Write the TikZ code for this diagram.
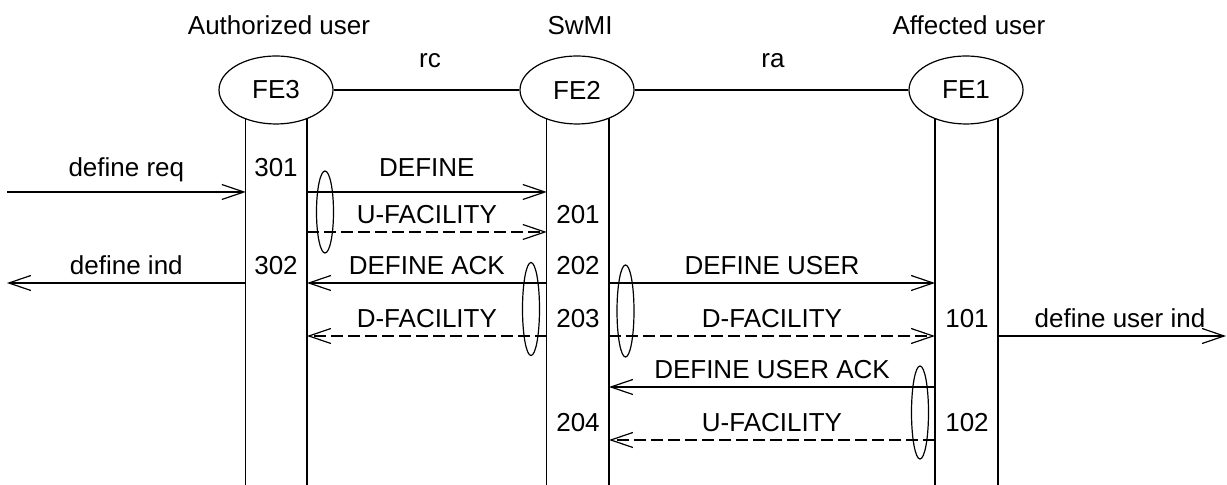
\documentclass[tikz,border=0pt]{standalone}
\usepackage{fontspec}
\setmainfont{Liberation Sans}
\usetikzlibrary{arrows.meta,shapes.geometric}

\begin{document}
\begin{tikzpicture}[x=0.5pt,y=-0.5pt,line width=0.6pt,font=\fontsize{13}{15}\selectfont]
\tikzstyle{fe}=[ellipse,draw,fill=white,minimum width=57pt,minimum height=34pt,inner sep=0pt];
\tikzstyle{grp}=[ellipse,draw,minimum width=8.5pt,inner sep=0pt];
\tikzstyle{msg}=[-{Straight Barb[length=11pt,width=7.5pt]}];
\tikzstyle{msgd}=[msg,dash pattern=on 6pt off 2.5pt];
\tikzstyle{lbl}=[anchor=base,yshift=4pt,inner sep=0pt];
\tikzstyle{num}=[anchor=base,inner sep=0pt];
\useasboundingbox (0,0) rectangle (1227,485);

\coordinate (c3) at (276,90);
\coordinate (c2) at (577,90);
\coordinate (c1) at (966,90);
\coordinate (a3) at (245.7,485);
\coordinate (b3) at (307,485);
\coordinate (a2) at (546.7,485);
\coordinate (b2) at (609,485);
\coordinate (a1) at (935,485);
\coordinate (b1) at (998,485);
\foreach \l in {a3,b3,a2,b2,a1,b1}
  \draw (\l |- c3) -- (\l);

\node [fe] (fe3) at (c3) {FE3};
\node [fe] (fe2) at (c2) {FE2};
\node [fe] (fe1) at (c1) {FE1};
\draw (fe3) -- (fe2);
\draw (fe2) -- (fe1);

\node [num] (t3) at (279,35) {Authorized user};
\node [num] (t2) at (580,35) {SwMI};
\node [num] (t1) at (969,35) {Affected user};
\node [num] (rc) at (430,68) {rc};
\node [num] (ra) at (773,68) {ra};

% rows
\coordinate (r1) at (0,192);
\coordinate (r2) at (0,232);
\coordinate (r3) at (0,283);
\coordinate (r4) at (0,336);
\coordinate (r5) at (0,387);
\coordinate (r6) at (0,440);
\coordinate (in1) at (7,192);
\coordinate (out1) at (7,283);
\coordinate (out2) at (1226,336);

\draw [msg] (in1) -- node[lbl,yshift=3.5pt] {define req} (a3 |- r1);
\draw [msg] (b3 |- r1) -- node[lbl,yshift=3.5pt] {DEFINE} (a2 |- r1);
\draw [msgd] (b3 |- r2) -- node[lbl] {U-FACILITY} (a2 |- r2);
\draw [msg] (a3 |- r3) -- node[lbl] {define ind} (out1);
\draw [msg] (a2 |- r3) -- node[lbl] {DEFINE ACK} (b3 |- r3);
\draw [msg] (b2 |- r3) -- node[lbl] {DEFINE USER} (a1 |- r3);
\draw [msgd] (a2 |- r4) -- node[lbl] {D-FACILITY} (b3 |- r4);
\draw [msgd] (b2 |- r4) -- node[lbl] {D-FACILITY} (a1 |- r4);
\draw [msg] (b1 |- r4) -- node[lbl,xshift=4pt] {define user ind} (out2);
\draw [msg] (a1 |- r5) -- node[lbl] {DEFINE USER ACK} (b2 |- r5);
\draw [msgd] (a1 |- r6) -- node[lbl] {U-FACILITY} (b2 |- r6);

\node [num] (n301) at (276,177) {301};
\node [num] (n302) at (276,275) {302};
\node [num] (n201) at (578,224) {201};
\node [num] (n202) at (578,275) {202};
\node [num] (n203) at (578,328) {203};
\node [num] (n204) at (578,432) {204};
\node [num] (n101) at (967,328) {101};
\node [num] (n102) at (967,432) {102};

\node [grp,minimum height=41pt] (g1) at (325,212) {};
\node [grp,minimum height=46.5pt] (g2) at (531,309) {};
\node [grp,minimum height=46pt] (g3) at (625.5,311) {};
\node [grp,minimum height=46.5pt] (g4) at (920,412.5) {};
\end{tikzpicture}
\end{document}
